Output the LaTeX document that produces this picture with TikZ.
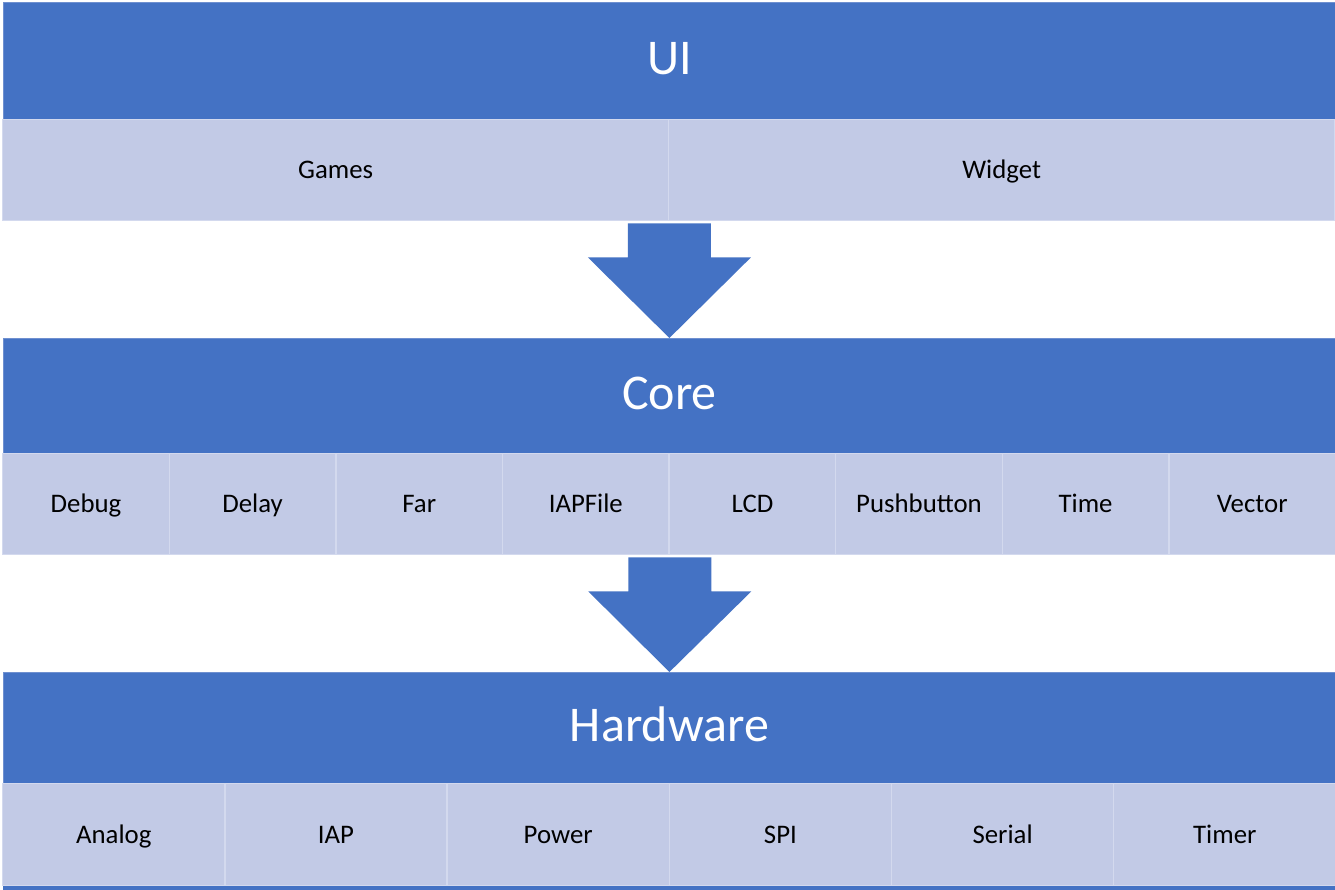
\documentclass[tikz,border=0pt]{standalone}
\usepackage{fontspec}
\setmainfont{Carlito}
\usetikzlibrary{calc}
\definecolor{hdrblue}{HTML}{4472C4}
\definecolor{celllight}{HTML}{C2CAE6}
\definecolor{cellline}{HTML}{D3D9EE}
\definecolor{hdrline}{HTML}{6F90D0}
\tikzset{
  hdr/.style={rectangle, fill=hdrblue, draw=hdrline, line width=0.8pt, inner sep=0pt,
    text=white, font=\fontsize{50}{58}\selectfont, minimum width=1332pt, anchor=north west,
    text height=32pt, text depth=4pt},
  cell/.style={rectangle, fill=celllight, draw=cellline, line width=1.4pt, inner sep=0pt,
    text=black, font=\fontsize{26.8}{30}\selectfont, anchor=north west,
    text height=17pt, text depth=0pt},
  bigarrow/.style={fill=hdrblue}
}
\begin{document}
\begin{tikzpicture}[x=1pt,y=-1pt]
\useasboundingbox (0,0) rectangle (1335,889);
\fill[white] (0,0) rectangle (1335,889);
% UI layer
\node[hdr, minimum height=117pt] (ui) at (3,2) {UI};
\node[cell, minimum width=666pt, minimum height=101pt] (games) at (2,119) {Games};
\node[cell, minimum width=666pt, minimum height=101pt] (widget) at (668,119) {Widget};
% Core layer
\node[hdr, minimum height=115pt] (core) at (3,338) {Core};
\foreach \t [count=\i from 0] in {Debug,Delay,Far,IAPFile,LCD,Pushbutton,Time,Vector}{
  \node[cell, minimum width=166.6pt, minimum height=101pt] (c\i) at ({2+\i*166.6},453) {\t};
}
% Hardware layer
\node[hdr, minimum height=111pt] (hw) at (3,672) {Hardware};
\foreach \t [count=\i from 0] in {Analog,IAP,Power,SPI,Serial,Timer}{
  \node[cell, minimum width=222.2pt, minimum height=102pt] (h\i) at ({2+\i*222.2},783) {\t};
}
\node[rectangle, fill=hdrblue, inner sep=0pt, minimum width=1332pt, minimum height=4pt, anchor=north west] (next) at (3,886) {};
% arrows
\coordinate (a1top) at ($(games.south east)+(0,2)$);
\fill[bigarrow] ($(a1top)+(-41.5,0)$) -- ($(a1top)+(41.5,0)$) -- ($(a1top)+(41.5,34)$)
  -- ($(a1top)+(81.5,34)$) -- (core.north) -- ($(a1top)+(-81.5,34)$) -- ($(a1top)+(-41.5,34)$) -- cycle;
\coordinate (a2top) at ($(c3.south east)+(0,2)$);
\fill[bigarrow] ($(a2top)+(-41.5,0)$) -- ($(a2top)+(41.5,0)$) -- ($(a2top)+(41.5,34)$)
  -- ($(a2top)+(81.5,34)$) -- (hw.north) -- ($(a2top)+(-81.5,34)$) -- ($(a2top)+(-41.5,34)$) -- cycle;
\end{tikzpicture}
\end{document}
